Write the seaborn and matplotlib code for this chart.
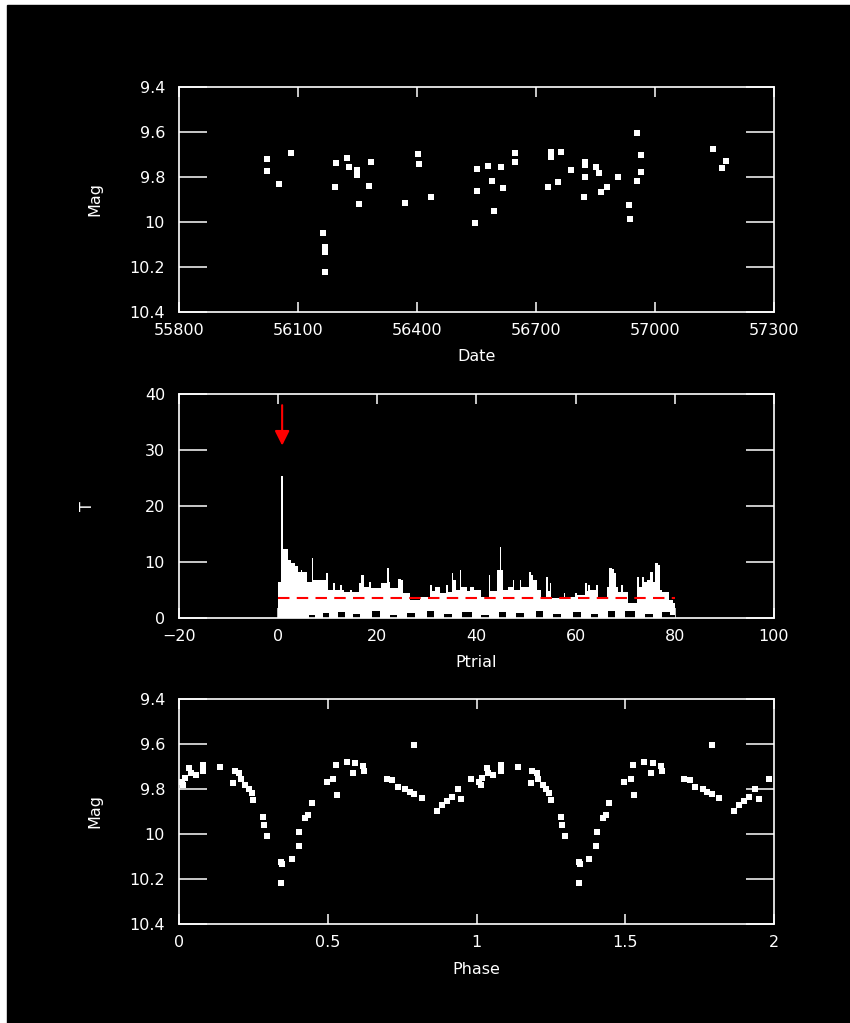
import matplotlib
matplotlib.use("Agg")
import matplotlib.pyplot as plt
from matplotlib.patches import Rectangle
import pandas as pd
import seaborn as sns

# light curve: date vs magnitude
dates = [56023, 56023, 56082, 56053, 56164, 56169, 56169, 56169, 56196, 56194,
         56223, 56229, 56249, 56249, 56253, 56285, 56280, 56370, 56402, 56406,
         56435, 56552, 56552, 56547, 56580, 56590, 56593, 56611, 56618, 56648,
         56648, 56737, 56737, 56762, 56729, 56756, 56788, 56823, 56823, 56823,
         56820, 56850, 56860, 56880, 56863, 56907, 56935, 56937, 56954, 56965,
         56964, 56954, 57146, 57178, 57170]
mags = [9.72, 9.772, 9.692, 9.832, 10.05, 10.11, 10.135, 10.22, 9.736, 9.846,
        9.714, 9.754, 9.77, 9.79, 9.92, 9.735, 9.84, 9.916, 9.698, 9.744,
        9.889, 9.766, 9.861, 10.006, 9.75, 9.818, 9.95, 9.754, 9.85, 9.692,
        9.732, 9.69, 9.71, 9.687, 9.843, 9.824, 9.769, 9.733, 9.748, 9.801,
        9.89, 9.754, 9.784, 9.843, 9.865, 9.801, 9.926, 9.988, 9.603, 9.702,
        9.779, 9.816, 9.677, 9.727, 9.758]

# periodogram, read as a step envelope (segment starts)
ptrial = [0.0, 0.6, 0.9, 1.9, 2.6, 3.3, 3.9, 4.6, 4.9, 5.9, 6.8, 7.1, 9.7, 10.0,
          11.1, 11.5, 12.4, 12.8, 13.2, 14.4, 14.8, 16.3, 16.8, 17.3, 18.3, 18.7,
          20.8, 22.0, 22.3, 22.6, 24.1, 24.7, 25.2, 26.6, 28.6, 30.7, 31.1, 31.6,
          32.7, 33.9, 34.3, 35.0, 35.3, 35.8, 36.6, 36.9, 38.0, 38.6, 39.4, 41.0,
          42.6, 42.8, 44.2, 44.8, 45.0, 45.4, 46.4, 47.3, 47.6, 48.7, 49.0, 50.6,
          51.0, 51.3, 52.2, 53.0, 54.1, 54.4, 54.8, 55.1, 57.6, 57.9, 59.9, 60.3,
          61.9, 62.2, 62.5, 62.9, 64.1, 64.5, 66.4, 66.8, 67.4, 67.8, 68.1, 68.6,
          69.2, 69.6, 70.5, 72.3, 72.8, 73.3, 73.7, 74.4, 75.0, 75.6, 75.9, 76.7,
          77.0, 77.5, 78.8, 79.7, 80.0]
t_stat = [6.5, 25.4, 12.3, 10.4, 9.8, 9.2, 8.3, 8.6, 8.3, 6.5, 10.8, 6.8, 8.0, 5.0,
          6.2, 5.0, 5.9, 5.0, 4.7, 5.0, 4.7, 6.2, 7.7, 5.6, 6.5, 5.3,
          6.2, 9.0, 6.5, 5.3, 7.0, 6.8, 4.4, 3.2, 3.8, 5.9, 4.8, 5.6,
          4.4, 5.9, 4.6, 8.0, 6.8, 5.0, 8.6, 5.6, 4.8, 5.6, 5.0, 3.8,
          7.6, 4.8, 8.6, 12.6, 8.6, 5.0, 5.6, 6.8, 5.0, 6.8, 5.6, 8.3,
          7.7, 6.8, 5.0, 3.8, 7.3, 4.8, 6.2, 3.5, 4.4, 3.8, 4.4, 4.1,
          6.2, 4.8, 5.9, 5.0, 5.9, 3.8, 5.6, 9.0, 8.8, 8.0, 5.6, 4.6,
          5.9, 4.7, 2.6, 7.4, 5.6, 7.4, 6.5, 6.8, 8.3, 6.5, 9.8, 9.5,
          5.0, 4.7, 3.2, 2.6, 2.6]
# ragged lower edge of the periodogram band (black notches)
ptrial_low = [0.0, 6.2, 7.5, 9.0, 10.2, 12.0, 13.5, 15.0, 16.5, 19.0, 20.5,
              22.5, 24.0, 26.0, 27.5, 30.0, 31.5, 33.5, 35.0, 37.0, 39.0, 41.0,
              42.5, 44.5, 46.0, 48.0, 49.5, 52.0, 53.5, 55.5, 57.0, 59.5, 61.0,
              63.0, 64.5, 66.5, 68.0, 70.0, 72.0, 74.0, 75.5, 77.5, 79.0, 80.0]
t_low = [0.0, 0.6, 0.0, 0.9, 0.0, 1.1, 0.0, 0.7, 0.0, 1.2, 0.0,
         0.5, 0.0, 0.9, 0.0, 1.3, 0.0, 0.8, 0.0, 1.0, 0.0, 0.6,
         0.0, 1.1, 0.0, 0.9, 0.0, 1.2, 0.0, 0.7, 0.0, 1.0, 0.0,
         0.8, 0.0, 1.2, 0.0, 1.3, 0.0, 0.8, 0.0, 1.0, 0.6, 0.6]
t_threshold = 3.6
p_best = 0.8

# phase-folded light curve (one cycle, shown twice)
phase = [0.009, 0.014, 0.020, 0.034, 0.040, 0.056, 0.082, 0.082, 0.138, 0.188,
         0.202, 0.183, 0.208, 0.222, 0.235, 0.244, 0.250, 0.283, 0.286, 0.297,
         0.343, 0.347, 0.379, 0.343, 0.403, 0.404, 0.424, 0.435, 0.446, 0.496,
         0.519, 0.530, 0.527, 0.564, 0.592, 0.586, 0.620, 0.622, 0.791, 0.698,
         0.717, 0.735, 0.760, 0.776, 0.791, 0.816, 0.866, 0.883, 0.900, 0.917,
         0.937, 0.948, 0.982]
mag_phase = [9.768, 9.782, 9.752, 9.708, 9.730, 9.738, 9.693, 9.719, 9.701, 9.719,
             9.730, 9.775, 9.757, 9.782, 9.800, 9.819, 9.849, 9.923, 9.960, 10.009,
             10.123, 10.133, 10.112, 10.219, 10.053, 9.990, 9.927, 9.916, 9.861, 9.770,
             9.757, 9.827, 9.693, 9.679, 9.686, 9.730, 9.698, 9.719, 9.604, 9.757,
             9.760, 9.790, 9.801, 9.812, 9.822, 9.841, 9.896, 9.871, 9.852, 9.837,
             9.801, 9.844, 9.757]

mag_ticks = [9.4, 9.6, 9.8, 10.0, 10.2, 10.4]
mag_labels = ["9.4", "9.6", "9.8", "10", "10.2", "10.4"]
date_ticks = [55800, 56100, 56400, 56700, 57000, 57300]
ptrial_ticks = [-20, 0, 20, 40, 60, 80, 100]
t_ticks = [0, 10, 20, 30, 40]
phase_ticks = [0, 0.5, 1, 1.5, 2]
phase_labels = ["0", "0.5", "1", "1.5", "2"]

sns.set_style("dark", {
    "axes.facecolor": "black",
    "figure.facecolor": "white",
    "axes.edgecolor": "white",
    "axes.labelcolor": "white",
    "text.color": "white",
    "xtick.color": "white",
    "ytick.color": "white",
    "axes.grid": False,
})
plt.rcParams["font.family"] = ["DejaVu Sans"]
plt.rcParams["font.size"] = 11.5

W, H = 850, 1023
fig = plt.figure(figsize=(W / 100, H / 100), dpi=100)
fig.patches.append(Rectangle((7 / W, 0), 1 - 7 / W, 1 - 5 / H,
                             transform=fig.transFigure, color="black", zorder=-10))


def make_axes(top_px, bottom_px):
    return fig.add_axes([179 / W, (H - bottom_px) / H, 595 / W, (bottom_px - top_px) / H])


def style_axes(ax):
    for s in ax.spines.values():
        s.set_color("white")
        s.set_linewidth(1.2)
    ax.tick_params(axis="x", direction="in", top=True, bottom=True, length=7,
                   width=1.1, pad=8, labelsize=11.5)
    ax.tick_params(axis="y", direction="in", left=True, right=True, length=20,
                   width=1.1, pad=10, labelsize=11.5)
    ax.minorticks_off()


# panel 1: light curve
ax1 = make_axes(87, 312)
lc = pd.DataFrame({"date": dates, "mag": mags})
sns.scatterplot(data=lc, x="date", y="mag", ax=ax1, color="white", marker="s",
                s=16, linewidth=0)
ax1.set_xlim(55800, 57300)
ax1.set_ylim(10.4, 9.4)
ax1.set_xticks(date_ticks)
ax1.set_xticklabels([str(d) for d in date_ticks])
ax1.set_yticks(mag_ticks)
ax1.set_yticklabels(mag_labels)
ax1.set_xlabel("Date")
ax1.set_ylabel("Mag")
style_axes(ax1)
ax1.xaxis.set_label_coords(0.5, -0.165)
ax1.yaxis.set_label_coords(-0.128, 0.5)

# panel 2: periodogram
ax2 = make_axes(394, 618)
ax2.fill_between(ptrial, 0, t_stat, step="post", color="white", linewidth=0)
ax2.fill_between(ptrial_low, 0, t_low, step="post", color="black", linewidth=0)
sns.lineplot(x=[ptrial[0], ptrial[-1]], y=[t_threshold, t_threshold], ax=ax2,
             color="red", linewidth=1.5)
ax2.lines[-1].set_dashes((5.5, 3.5))
ax2.annotate("", xy=(p_best, 30.3), xytext=(p_best, 38.5),
             arrowprops=dict(arrowstyle="-|>", color="red", lw=1.5, mutation_scale=22))
ax2.set_xlim(-20, 100)
ax2.set_ylim(0, 40)
ax2.set_xticks(ptrial_ticks)
ax2.set_yticks(t_ticks)
ax2.set_xlabel("Ptrial")
ax2.set_ylabel("T")
style_axes(ax2)
ax2.xaxis.set_label_coords(0.5, -0.165)
ax2.yaxis.set_label_coords(-0.141, 0.5)

# panel 3: phase-folded light curve
ax3 = make_axes(699, 924)
pf = pd.DataFrame({"phase": phase + [p + 1 for p in phase],
                   "mag": mag_phase + mag_phase})
sns.scatterplot(data=pf, x="phase", y="mag", ax=ax3, color="white", marker="s",
                s=16, linewidth=0)
ax3.set_xlim(0, 2)
ax3.set_ylim(10.4, 9.4)
ax3.set_xticks(phase_ticks)
ax3.set_xticklabels(phase_labels)
ax3.set_yticks(mag_ticks)
ax3.set_yticklabels(mag_labels)
ax3.set_xlabel("Phase")
ax3.set_ylabel("Mag")
style_axes(ax3)
ax3.xaxis.set_label_coords(0.5, -0.17)
ax3.yaxis.set_label_coords(-0.128, 0.5)

fig.savefig("out.png", dpi=100, facecolor="white")
